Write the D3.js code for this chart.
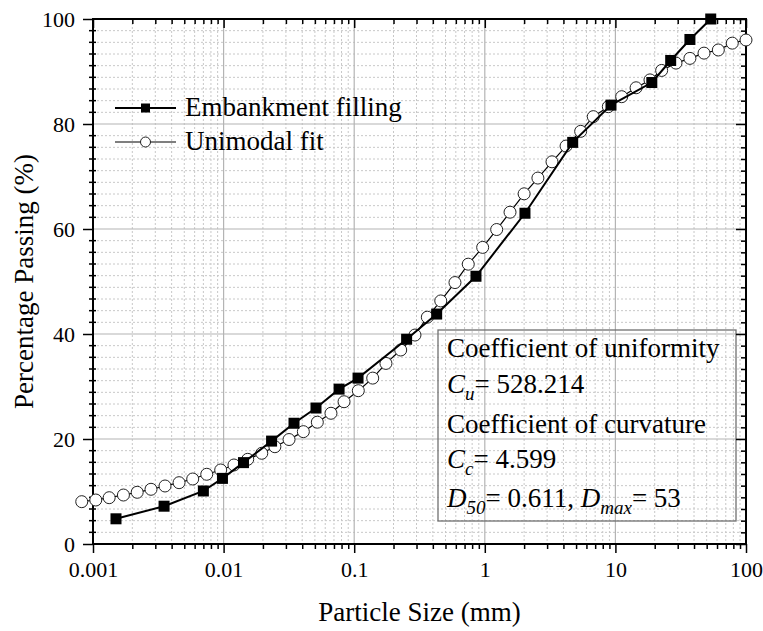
<!DOCTYPE html>
<html>
<head>
<meta charset="utf-8">
<script src="https://cdn.jsdelivr.net/npm/d3@7"></script>
<style>
    body { margin: 0; background: #fff; }
    svg text { font-family: "Liberation Serif", Tinos, "Times New Roman", Times, "DejaVu Serif", serif; fill: #000; }
</style>
</head>
<body>
<div id="content"></div>
<script>
// sieve data (mm, % passing)
const embX = [0.0015, 0.0035, 0.007, 0.0098, 0.0142, 0.0233, 0.0346, 0.051, 0.0766, 0.107,
    0.252, 0.428, 0.856, 2.03, 4.71, 9.25, 19, 26.5, 37.2, 53.7];
const embY = [4.8, 7.2, 10.1, 12.5, 15.5, 19.6, 23.0, 25.9, 29.5, 31.6,
    39.0, 43.8, 51.0, 63.0, 76.5, 83.6, 87.9, 92.1, 96.1, 100];

// unimodal fit points
const fitX = [0.00082, 0.00105, 0.00133, 0.00171, 0.00218, 0.00278, 0.00356, 0.00456, 0.0058, 0.00743,
    0.0095, 0.012, 0.0153, 0.0196, 0.0247, 0.0317, 0.0408, 0.0522, 0.0664, 0.0836,
    0.1075, 0.1386, 0.175, 0.227, 0.292, 0.363, 0.46, 0.591, 0.747, 0.963,
    1.233, 1.56, 2.0, 2.55, 3.27, 4.19, 5.42, 6.77, 8.83, 11.17,
    14.4, 18.4, 22.6, 29.1, 37.2, 47.7, 61.4, 78.5, 100];
const fitY = [8.06, 8.38, 8.82, 9.33, 9.85, 10.42, 11.05, 11.68, 12.38, 13.28,
    14.1, 15.05, 16.13, 17.28, 18.53, 19.9, 21.4, 23.2, 24.9, 27.1,
    29.2, 31.6, 34.4, 36.95, 39.8, 43.2, 46.3, 49.8, 53.3, 56.5,
    59.9, 63.2, 66.7, 69.7, 72.8, 75.8, 78.6, 81.4, 83.3, 85.2,
    86.9, 88.4, 90.2, 91.6, 92.5, 93.5, 94.1, 95.4, 96.0];

const xTicks = [0.001, 0.01, 0.1, 1, 10, 100];
const yTicks = [0, 20, 40, 60, 80, 100];
const legendLabels = ["Embankment filling", "Unimodal fit"];

const W = 763, H = 631;
const pL = 93, pR = 746, pT = 19, pB = 544;
const serif = '"Liberation Serif", Tinos, "Times New Roman", Times, "DejaVu Serif", serif';

var svg = d3.select("#content")
    .append("svg")
    .attr("width", W)
    .attr("height", H)
    .style("font-family", serif);

const x = d3.scaleLog().domain([0.001, 100]).range([pL, pR]);
const y = d3.scaleLinear().domain([0, 100]).range([pB, pT]);

// minor ticks: 2..9 per decade, 8 minor per 20 %
let xMinor = [];
for (let i = 0; i < xTicks.length - 1; ++i) {
    for (let k = 2; k <= 9; ++k) xMinor.push(xTicks[i] * k);
}
let yMinor = [];
for (let i = 0; i < yTicks.length - 1; ++i) {
    for (let k = 1; k <= 8; ++k) yMinor.push(yTicks[i] + k * 20 / 9);
}

// grid
var grid = svg.append("g");
grid.selectAll(".gxm").data(xMinor).enter().append("line")
    .attr("x1", d => x(d)).attr("x2", d => x(d))
    .attr("y1", pT).attr("y2", pB)
    .style("stroke", "#c8c8c8").style("stroke-dasharray", "2,2").style("stroke-width", 1);
grid.selectAll(".gym").data(yMinor).enter().append("line")
    .attr("x1", pL).attr("x2", pR)
    .attr("y1", d => y(d)).attr("y2", d => y(d))
    .style("stroke", "#c8c8c8").style("stroke-dasharray", "2,2").style("stroke-width", 1);
grid.selectAll(".gx").data(xTicks.slice(1, -1)).enter().append("line")
    .attr("x1", d => x(d)).attr("x2", d => x(d))
    .attr("y1", pT).attr("y2", pB)
    .style("stroke", "#b4b4b4").style("stroke-width", 1.2);
grid.selectAll(".gy").data(yTicks.slice(1, -1)).enter().append("line")
    .attr("x1", pL).attr("x2", pR)
    .attr("y1", d => y(d)).attr("y2", d => y(d))
    .style("stroke", "#b4b4b4").style("stroke-width", 1.2);

// info box
var box = svg.append("g");
box.append("rect")
    .attr("x", 438).attr("y", 330).attr("width", 298).attr("height", 191)
    .style("fill", "none").style("stroke", "#707070").style("stroke-width", 1.3);

const fs = 27, sub = 19;
function line(yy) {
    return box.append("text").attr("x", 447).attr("y", yy).style("font-size", fs + "px");
}
line(357).text("Coefficient of uniformity");
var t2 = line(393);
t2.append("tspan").style("font-style", "italic").text("C");
t2.append("tspan").style("font-style", "italic").style("font-size", sub + "px").attr("dy", 7).text("u");
t2.append("tspan").attr("dy", -7).text("= 528.214");
line(433).text("Coefficient of curvature");
var t4 = line(468);
t4.append("tspan").style("font-style", "italic").text("C");
t4.append("tspan").style("font-style", "italic").style("font-size", sub + "px").attr("dy", 7).text("c");
t4.append("tspan").attr("dy", -7).text("= 4.599");
var t5 = line(507);
t5.append("tspan").style("font-style", "italic").text("D");
t5.append("tspan").style("font-style", "italic").style("font-size", sub + "px").attr("dy", 7).text("50");
t5.append("tspan").attr("dy", -7).text("= 0.611, ");
t5.append("tspan").style("font-style", "italic").text("D");
t5.append("tspan").style("font-style", "italic").style("font-size", sub + "px").attr("dy", 7).text("max");
t5.append("tspan").attr("dy", -7).text("= 53");

// axes
function styleAxis(g) {
    g.attr("font-family", null);
    g.select(".domain").remove();
    g.selectAll("line").style("stroke", "#000").style("stroke-width", 1.5);
    g.selectAll("text").style("font-size", "22px").style("font-family", serif);
}
svg.append("g").attr("transform", "translate(0," + pB + ")")
    .call(d3.axisBottom(x).tickValues(xTicks).tickFormat(d => String(d)).tickSize(9).tickPadding(8))
    .call(styleAxis);
svg.append("g").attr("transform", "translate(0," + pB + ")")
    .call(d3.axisBottom(x).tickValues(xMinor).tickFormat("").tickSize(5))
    .call(styleAxis);
svg.append("g").attr("transform", "translate(0," + pT + ")")
    .call(d3.axisTop(x).tickValues(xTicks).tickFormat("").tickSize(-9))
    .call(styleAxis);
svg.append("g").attr("transform", "translate(0," + pT + ")")
    .call(d3.axisTop(x).tickValues(xMinor).tickFormat("").tickSize(-5))
    .call(styleAxis);
svg.append("g").attr("transform", "translate(" + pL + ",0)")
    .call(d3.axisLeft(y).tickValues(yTicks).tickSize(10).tickPadding(8))
    .call(styleAxis);
svg.append("g").selectAll("line").data(yMinor).enter().append("line")
    .attr("x1", pL - 4).attr("x2", pL + 3)
    .attr("y1", d => y(d)).attr("y2", d => y(d))
    .style("stroke", "#000").style("stroke-width", 1.5);
svg.append("g").attr("transform", "translate(" + pR + ",0)")
    .call(d3.axisRight(y).tickValues(yTicks).tickFormat("").tickSize(-10))
    .call(styleAxis);
svg.append("g").attr("transform", "translate(" + pR + ",0)")
    .call(d3.axisRight(y).tickValues(yMinor).tickFormat("").tickSize(-5))
    .call(styleAxis);
svg.append("rect")
    .attr("x", pL).attr("y", pT).attr("width", pR - pL).attr("height", pB - pT)
    .style("fill", "none").style("stroke", "#000").style("stroke-width", 2);

// axis titles
svg.append("text")
    .attr("x", (pL + pR) / 2).attr("y", 621)
    .attr("text-anchor", "middle")
    .style("font-size", "27px")
    .text("Particle Size (mm)");
svg.append("text")
    .attr("transform", "translate(33," + ((pT + pB) / 2) + ")rotate(-90)")
    .attr("text-anchor", "middle")
    .style("font-size", "27px")
    .text("Percentage Passing (%)");

// series
const fit = fitX.map((d, i) => [d, fitY[i]]);
const emb = embX.map((d, i) => [d, embY[i]]);
const lineGen = d3.line().x(d => x(d[0])).y(d => y(d[1]));

svg.append("path").datum(fit).attr("d", lineGen)
    .style("fill", "none").style("stroke", "#000").style("stroke-width", 1.2);
svg.append("g").selectAll("circle").data(fit).enter().append("circle")
    .attr("cx", d => x(d[0])).attr("cy", d => y(d[1])).attr("r", 6)
    .style("fill", "#fff").style("stroke", "#222").style("stroke-width", 1);

svg.append("path").datum(emb).attr("d", lineGen)
    .style("fill", "none").style("stroke", "#000").style("stroke-width", 2);
svg.append("g").selectAll("rect").data(emb).enter().append("rect")
    .attr("x", d => x(d[0]) - 5.5).attr("y", d => y(d[1]) - 5.5)
    .attr("width", 11).attr("height", 11)
    .style("fill", "#000");

// legend
var legend = svg.append("g");
legendLabels.forEach(function (name, i) {
    const ly = 108 + i * 34;
    legend.append("line")
        .attr("x1", 115).attr("x2", 176).attr("y1", ly).attr("y2", ly)
        .style("stroke", "#000").style("stroke-width", i == 0 ? 2 : 1.2);
    if (i == 0) {
        legend.append("rect").attr("x", 141).attr("y", ly - 4.5).attr("width", 9).attr("height", 9)
            .style("fill", "#000");
    } else {
        legend.append("circle").attr("cx", 145.5).attr("cy", ly).attr("r", 5)
            .style("fill", "#fff").style("stroke", "#222");
    }
    legend.append("text").attr("x", 185).attr("y", ly + 8)
        .style("font-size", "27px").text(name);
});
</script>
</body>
</html>
